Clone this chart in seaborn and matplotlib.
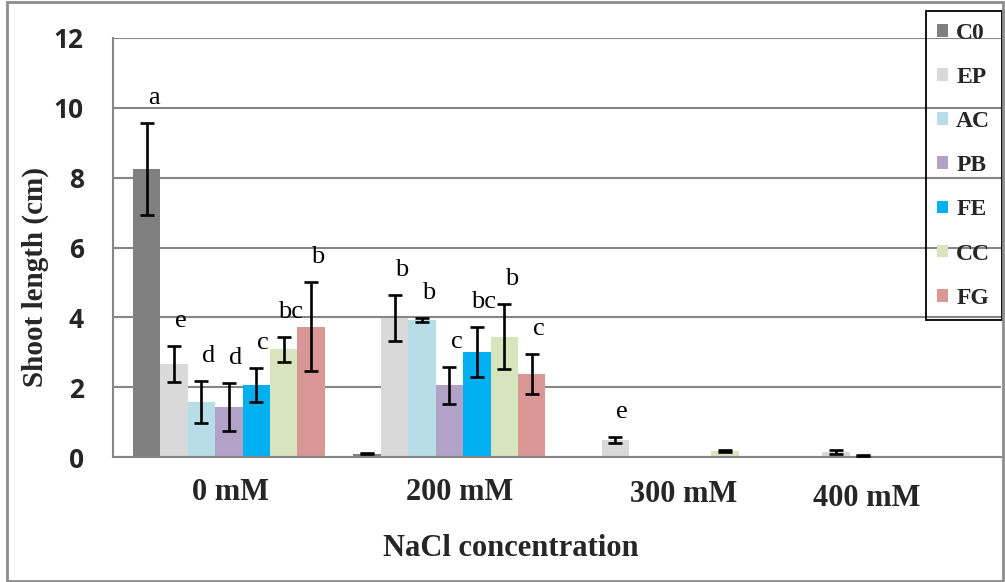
import matplotlib
matplotlib.use("Agg")
import matplotlib.pyplot as plt
import matplotlib.transforms as mtransforms
from matplotlib.patches import Rectangle
import seaborn as sns
import pandas as pd

# --- data ---
concentrations = ["0 mM", "200 mM", "300 mM", "400 mM"]
treatments = ["C0", "EP", "AC", "PB", "FE", "CC", "FG"]

shoot_0 = [8.25, 2.66, 1.58, 1.43, 2.06, 3.09, 3.73]
shoot_200 = [0.10, 3.98, 3.93, 2.06, 3.01, 3.44, 2.38]
shoot_300 = [0.0, 0.49, 0.0, 0.0, 0.0, 0.17, 0.0]
shoot_400 = [0.0, 0.14, 0.04, 0.0, 0.0, 0.0, 0.0]

err_0 = [1.32, 0.52, 0.60, 0.69, 0.49, 0.36, 1.27]
err_200 = [0.02, 0.67, 0.05, 0.53, 0.71, 0.93, 0.57]
err_300 = [0.0, 0.08, 0.0, 0.0, 0.0, 0.04, 0.0]
err_400 = [0.0, 0.06, 0.01, 0.0, 0.0, 0.0, 0.0]

letters_0 = ["a", "e", "d", "d", "c", "bc", "b"]
letters_200 = ["", "b", "b", "c", "bc", "b", "c"]
letters_300 = ["", "e", "", "", "", "", ""]
letters_400 = ["", "", "", "", "", "", ""]

colors = ["#808080", "#d9d9d9", "#b7dde8", "#b2a2c7", "#00b0f0", "#d7e4bd", "#d99694"]

values = [shoot_0, shoot_200, shoot_300, shoot_400]
errors = [err_0, err_200, err_300, err_400]
letters = [letters_0, letters_200, letters_300, letters_400]

rows = []
for conc, vals in zip(concentrations, values):
    for trt, v in zip(treatments, vals):
        rows.append({"conc": conc, "treatment": trt, "length": v})
df = pd.DataFrame(rows)

# --- figure ---
sns.set_style("white")
plt.rcParams["font.family"] = ["Liberation Serif", "DejaVu Serif"]

W, H = 1005, 582
fig = plt.figure(figsize=(W / 100, H / 100), dpi=100)
ax = fig.add_axes([113 / W, 1 - 457 / H, (1001 - 113) / W, (457 - 38) / H])

grey = "#868686"

sns.barplot(data=df, x="conc", y="length", hue="treatment", order=concentrations,
            hue_order=treatments, palette=colors, saturation=1, width=0.87,
            errorbar=None, linewidth=0, ax=ax, zorder=2)

# error bars and significance letters on top of each bar
bar_containers = list(ax.containers)
for i, cont in enumerate(bar_containers):
    for j, bar in enumerate(cont):
        x = bar.get_x() + bar.get_width() / 2
        y = bar.get_height()
        e = errors[j][i]
        if e > 0:
            ax.errorbar(x, y, yerr=e, fmt="none", ecolor="black", elinewidth=1.9,
                        capsize=5, capthick=1.9, zorder=3)
        lab = letters[j][i]
        if lab:
            ax.annotate(lab, xy=(x, y + e), xytext=(5, 18), textcoords="offset points",
                        ha="center", va="center", fontsize=19, color="black")

ax.set_ylim(0, 12)
ax.set_xlim(-0.525, 3.5)
ax.set_yticks(range(0, 13, 2))
ax.grid(axis="y", color=grey, linewidth=1.5, zorder=0)
ax.set_axisbelow(True)

for side in ["top", "right"]:
    ax.spines[side].set_visible(False)
for side in ["left", "bottom"]:
    ax.spines[side].set_color(grey)
    ax.spines[side].set_linewidth(1.5)

ax.tick_params(axis="y", direction="out", length=7, width=1.5, color=grey, pad=14)
ax.tick_params(axis="x", length=0, pad=15)
for lab in ax.get_yticklabels():
    lab.set_fontfamily(["Open Sans", "DejaVu Sans"])
    lab.set_fontweight("bold")
    lab.set_fontsize(19)

xtick_dx = [2, 10, 14, -24]
xtick_dy = [0, 0, -2, -6]
for lab, dx, dy in zip(ax.get_xticklabels(), xtick_dx, xtick_dy):
    lab.set_fontweight("bold")
    lab.set_fontsize(22)
    lab.set_transform(lab.get_transform() +
                      mtransforms.ScaledTranslation(dx / 100, dy / 100, fig.dpi_scale_trans))

ax.set_xlabel("NaCl concentration", fontsize=22, fontweight="bold", va="center")
ax.xaxis.set_label_coords((511 - 113) / 888, (457 - 549) / 419)
ax.set_ylabel("Shoot length (cm)", fontsize=21, fontweight="bold", va="center")
ax.yaxis.set_label_coords((35 - 113) / 888, (457 - 277) / 419)

# legend (transparent box so the gridlines show through, as in the original)
handles, labels = ax.get_legend_handles_labels()
leg = ax.legend(handles, labels, loc="upper right",
                bbox_to_anchor=(1002 / W, 1 - 11 / H), bbox_transform=fig.transFigure,
                borderaxespad=0, frameon=True, fancybox=False, framealpha=1,
                facecolor="none", edgecolor="black", handlelength=0.45, handleheight=0.45,
                handletextpad=0.35, labelspacing=0.98, borderpad=0.5,
                prop={"family": "Liberation Serif", "weight": "bold", "size": 17})
leg.get_frame().set_linewidth(1.3)

# chart-area border
fig.patches.append(Rectangle((7 / W, 1 / H), (1003 - 7) / W, (H - 3) / H,
                             transform=fig.transFigure, fill=False,
                             edgecolor="#8c8c8c", linewidth=2))

fig.savefig("out.png", dpi=100)
